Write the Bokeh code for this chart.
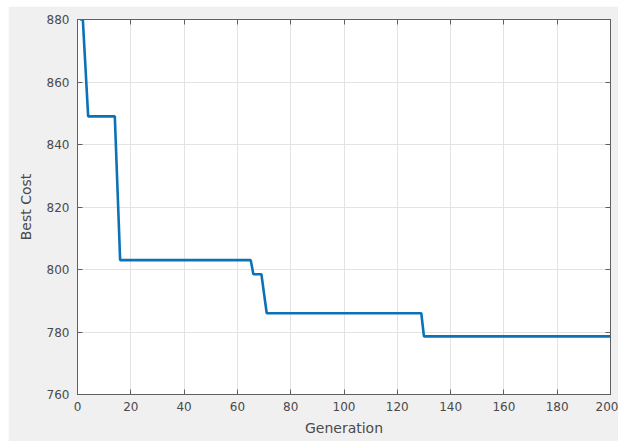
from bokeh.plotting import figure
from bokeh.models import Range1d, LinearAxis
from bokeh.embed import file_html
from bokeh.resources import INLINE

# Data (step-wise best cost per generation)
generation = [1, 2, 4, 14, 16, 65, 66, 69, 71, 129, 130, 200]
best_cost = [880, 880, 849, 849, 803, 803, 798.5, 798.5, 786, 786, 778.6, 778.6]

x_ticks = [0, 20, 40, 60, 80, 100, 120, 140, 160, 180, 200]
y_ticks = [760, 780, 800, 820, 840, 860, 880]

AXIS_COL = "#606060"
LABEL_COL = "#4a4a4a"
FONT = "DejaVu Sans"

p = figure(width=610, height=435, output_backend="svg", toolbar_location=None,
           x_range=Range1d(0, 200), y_range=Range1d(760, 880),
           min_border_left=69, min_border_right=8, min_border_top=13, min_border_bottom=47)
p.margin = (6, 0, 2, 8)

p.border_fill_color = "#f0f0f0"
p.background_fill_color = "white"
p.outline_line_color = AXIS_COL
p.outline_line_width = 1

p.line(generation, best_cost, line_color="#0b72b8", line_width=2.6)

for ax in (p.xaxis[0], p.yaxis[0]):
    ax.major_tick_in = 5
    ax.major_tick_out = 0
    ax.minor_tick_line_color = None
    ax.axis_line_color = AXIS_COL
    ax.major_tick_line_color = AXIS_COL
    ax.major_label_text_color = LABEL_COL
    ax.major_label_text_font = FONT
    ax.major_label_text_font_size = "12px"
    ax.axis_label_text_font = FONT
    ax.axis_label_text_font_size = "14px"
    ax.axis_label_text_font_style = "normal"
    ax.axis_label_text_color = LABEL_COL

p.xaxis[0].ticker = x_ticks
p.yaxis[0].ticker = y_ticks
p.xaxis[0].axis_label = "Generation"
p.yaxis[0].axis_label = "Best Cost"
p.xaxis[0].major_label_standoff = 7
p.xaxis[0].axis_label_standoff = 6
p.yaxis[0].major_label_standoff = 8
p.yaxis[0].axis_label_standoff = 10

# box axes with inward ticks (top and right), no labels
top = LinearAxis(ticker=x_ticks, major_label_overrides={t: "" for t in x_ticks})
right = LinearAxis(ticker=y_ticks, major_label_overrides={t: "" for t in y_ticks})
for ax in (top, right):
    ax.major_tick_in = 5
    ax.major_tick_out = 0
    ax.minor_tick_line_color = None
    ax.axis_line_color = AXIS_COL
    ax.major_tick_line_color = AXIS_COL
    ax.major_label_standoff = 0
p.add_layout(top, "above")
p.add_layout(right, "right")

p.xgrid.ticker = x_ticks
p.ygrid.ticker = y_ticks
p.grid.grid_line_color = "#e3e3e3"
p.grid.grid_line_width = 1

open("out.html", "w").write(file_html(p, INLINE))
